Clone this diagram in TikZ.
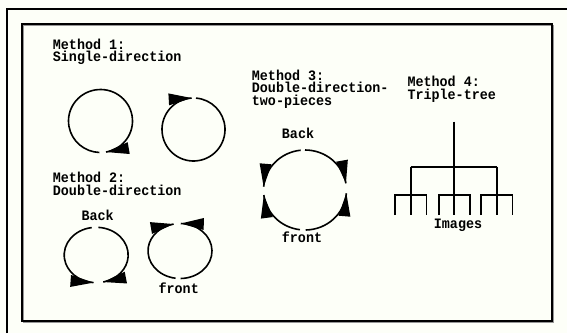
\documentclass[tikz,border=0pt]{standalone}
\usepackage{fontspec}
\newfontfamily\labelfont[FakeStretch=0.93]{Liberation Mono}
\usetikzlibrary{calc}
\definecolor{bg}{RGB}{253,255,248}
\definecolor{framegray}{RGB}{150,150,150}
\newcommand{\ringarc}[6]{% cx cy rx ry t1 t2
  \draw[ring] ($(#1,#2)+(#5:#3 and #4)$) arc[start angle=#5, end angle=#6, x radius=#3, y radius=#4];}
\newcommand{\ringhead}[6]{% cx cy rx ry t sign
  \pgfmathsetmacro{\tipx}{#1+#3*cos(#5)}%
  \pgfmathsetmacro{\tipy}{#2+#4*sin(#5)}%
  \pgfmathsetmacro{\aphi}{atan2(#6*#4*cos(#5), -#6*#3*sin(#5))}%
  \fill[shift={(\tipx,\tipy)}, rotate=\aphi] (0,0) -- (-23,6) -- (-23,-6) -- cycle;}
\newcommand{\linestack}[1]{\vtop{\baselineskip=12.5pt\lineskiplimit=-20pt\lineskip=0pt#1}}
\begin{document}
\begin{tikzpicture}[x=1pt,y=1pt,
  ring/.style={line width=1.6pt},
  treeline/.style={line width=1.8pt},
  txt/.style={font=\labelfont\bfseries\fontsize{14.4}{12.5}\selectfont, inner sep=0pt},
  lbl/.style={txt, anchor=base west},
  tag/.style={txt, anchor=base}]
\useasboundingbox (0,0) rectangle (567,333);
\fill[bg] (0,0) rectangle (567,333);
% outer frame
\draw[line width=2pt] (7,0) -- (7,324) -- (567,324);
% inner frame
\draw[framegray, line width=1.5pt] (23.5,10.5) rectangle (553.5,307.5);
\draw[line width=1.5pt] (22,12) rectangle (552,309);
% labels
\node[lbl] (m1) at (52.7,284) {\linestack{\hbox{Method 1:}\hbox{Single-direction}}};
\node[lbl] (m2) at (52.7,150.3) {\linestack{\hbox{Method 2:}\hbox{Double-direction}}};
\node[lbl] (m3) at (251.7,253) {\linestack{\hbox{Method 3:}\hbox{Double-direction-}\hbox{two-pieces}}};
\node[lbl] (m4) at (407.3,246.5) {\linestack{\hbox{Method 4:}\hbox{Triple-tree}}};
\node[tag] (back2) at (97.7,113) {Back};
\node[tag] (front2) at (178.7,40) {front};
\node[tag] (back3) at (298,195) {Back};
\node[tag] (front3) at (302,91) {front};
\node[tag] (imgs) at (458,105) {Images};
% method 1
\ringarc{100.5}{212}{32}{31.5}{-80}{268}
\ringhead{100.5}{212}{32}{31.5}{-80}{-1}
\ringarc{193.5}{203.5}{31.5}{31.5}{93.3}{445.5}
\ringhead{193.5}{203.5}{31.5}{31.5}{93.3}{-1}
% method 2
\ringarc{96.2}{78}{32}{27.7}{98}{265.2}
\ringhead{96.2}{78}{32}{27.7}{265.2}{1}
\ringarc{96.2}{78}{32}{27.7}{86.2}{-77.2}
\ringhead{96.2}{78}{32}{27.7}{-77.2}{-1}
\ringarc{180}{82}{32}{27.5}{262}{101.5}
\ringhead{180}{82}{32}{27.5}{101.5}{-1}
\ringarc{180}{82}{32}{27.5}{-89}{88.6}
\ringhead{180}{82}{32}{27.5}{88.6}{1}
% method 3
\ringarc{305}{143}{41.5}{40}{96}{175.3}
\ringhead{305}{143}{41.5}{40}{175.3}{1}
\ringarc{305}{143}{41.5}{40}{90}{9.6}
\ringhead{305}{143}{41.5}{40}{9.6}{-1}
\ringarc{305}{143}{41.5}{40}{263}{187.2}
\ringhead{305}{143}{41.5}{40}{187.2}{-1}
\ringarc{305}{143}{41.5}{40}{271}{355.3}
\ringhead{305}{143}{41.5}{40}{355.3}{1}
% method 4 tree
\coordinate (root) at (454.3,211.3);
\coordinate (hub) at (454.3,166.3);
\draw[treeline] (root) -- (hub);
\draw[treeline] (410.7,166.3) -- (496.7,166.3);
\foreach \gx/\gn in {410.7/ga, 454.3/gb, 496.7/gc}{
  \coordinate (\gn) at (\gx,138);
  \coordinate (\gn l) at (\gx-15.7,118);
  \coordinate (\gn m) at (\gx,118);
  \coordinate (\gn r) at (\gx+15.7,118);
  \draw[treeline] (\gx,166.3) -- (\gn m);
  \draw[treeline] (\gn l) |- (\gn) -| (\gn r);
}
\end{tikzpicture}
\end{document}
